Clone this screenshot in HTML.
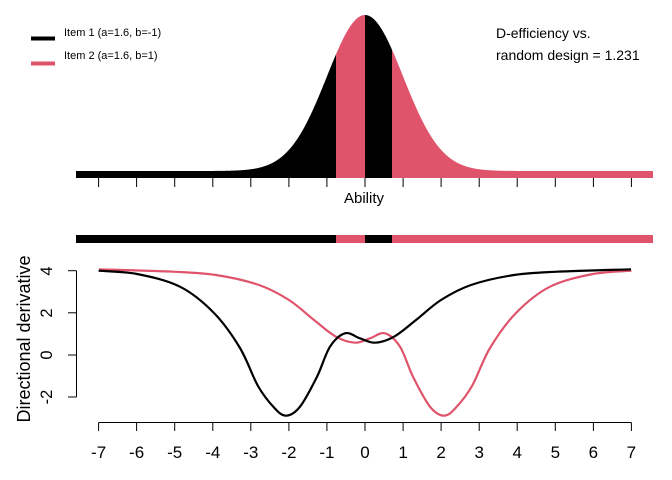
<!DOCTYPE html>
<html><head><meta charset="utf-8"><style>
html,body{margin:0;padding:0;background:#fff;}
svg{display:block;font-family:"Liberation Sans",Arial,sans-serif;}
</style></head><body>
<svg id="s" width="672" height="480" viewBox="0 0 672 480" xmlns="http://www.w3.org/2000/svg">
<g id="topg"></g>
<g id="ticks" stroke="#000" stroke-width="1"></g>
<text x="364" y="203" font-size="15" text-anchor="middle">Ability</text>
<rect x="76" y="235" width="260" height="8" fill="#000"/>
<rect x="336" y="235" width="29" height="8" fill="#DF536B"/>
<rect x="365" y="235" width="27" height="8" fill="#000"/>
<rect x="392" y="235" width="261" height="8" fill="#DF536B"/>
<line x1="31" y1="38.5" x2="55" y2="38.5" stroke="#000" stroke-width="4"/>
<line x1="31" y1="63.5" x2="55" y2="63.5" stroke="#DF536B" stroke-width="4"/>
<text x="64" y="36" font-size="11">Item 1 (a=1.6, b=-1)</text>
<text x="64" y="59" font-size="11">Item 2 (a=1.6, b=1)</text>
<text x="496" y="38" font-size="14">D-efficiency vs.</text>
<text x="496" y="60" font-size="14">random design = 1.231</text>
<g stroke="#000" stroke-width="1" fill="none">
<line x1="76.5" y1="270.7" x2="76.5" y2="397"/>
<line x1="68" y1="270.7" x2="76.5" y2="270.7"/>
<line x1="68" y1="312.8" x2="76.5" y2="312.8"/>
<line x1="68" y1="355" x2="76.5" y2="355"/>
<line x1="68" y1="397" x2="76.5" y2="397"/>
<line x1="98.6" y1="422.5" x2="631.4" y2="422.5"/>
</g>
<g font-size="16.5" text-anchor="middle">
<text transform="translate(52,271) rotate(-90)">4</text>
<text transform="translate(52,313) rotate(-90)">2</text>
<text transform="translate(52,355) rotate(-90)">0</text>
<text transform="translate(52,397) rotate(-90)">-2</text>
<text transform="translate(30,339) rotate(-90)" font-size="18">Directional derivative</text>
</g>
<g id="xl" font-size="17" text-anchor="middle"></g>
<g id="xt" stroke="#000" stroke-width="1"></g>
<path id="red" fill="none" stroke="#DF536B" stroke-width="2.2"/>
<path id="blk" fill="none" stroke="#000" stroke-width="2.2"/>
</svg>
<script>
(function(){
var NS="http://www.w3.org/2000/svg";
function X(t){return 365+38.06*t;}
var tg=document.getElementById('topg');
var segs=[[76,336,'#000'],[336,365,'#DF536B'],[365,392,'#000'],[392,653,'#DF536B']];
segs.forEach(function(s){
 var d='M'+s[0]+',178';
 for(var x=s[0];x<=s[1];x+=0.5){var t=(x-365)/38.06;var y=171-156*Math.exp(-t*t/2);d+=' L'+x+','+y.toFixed(2);}
 d+=' L'+s[1]+',178 Z';
 var p=document.createElementNS(NS,'path');p.setAttribute('d',d);p.setAttribute('fill',s[2]);tg.appendChild(p);
});
var tk=document.getElementById('ticks'),xt=document.getElementById('xt'),xl=document.getElementById('xl');
for(var i=-7;i<=7;i++){
 var x=X(i).toFixed(1);
 var l=document.createElementNS(NS,'line');l.setAttribute('x1',x);l.setAttribute('x2',x);l.setAttribute('y1',178);l.setAttribute('y2',187);tk.appendChild(l);
 var l2=document.createElementNS(NS,'line');l2.setAttribute('x1',x);l2.setAttribute('x2',x);l2.setAttribute('y1',422.5);l2.setAttribute('y2',431);xt.appendChild(l2);
 var tx=document.createElementNS(NS,'text');tx.setAttribute('x',x);tx.setAttribute('y',458);tx.textContent=i;xl.appendChild(tx);
}
var pts=[[98.6,270.7],[137,274],[180,286.7],[214,313],[240,348],[258,386],[274,407.5],[286,415.7],[300,406.7],[317,376.7],[330,346.7],[345,333.3],[360,338.3],[375,342.7],[394,336.7],[416,320],[441,300],[471,285],[514,275],[557,271.7],[631,269.3]];
function cr(p){
 var d='M'+p[0][0]+','+p[0][1];
 for(var i=0;i<p.length-1;i++){
  var p0=p[i-1]||p[i],p1=p[i],p2=p[i+1],p3=p[i+2]||p2;
  var c1=[p1[0]+(p2[0]-p0[0])/6,p1[1]+(p2[1]-p0[1])/6],c2=[p2[0]-(p3[0]-p1[0])/6,p2[1]-(p3[1]-p1[1])/6];
  d+=' C'+c1[0].toFixed(2)+','+c1[1].toFixed(2)+' '+c2[0].toFixed(2)+','+c2[1].toFixed(2)+' '+p2[0]+','+p2[1];
 }
 return d;
}
document.getElementById('blk').setAttribute('d',cr(pts));
var rp=pts.map(function(q){return [730-q[0],q[1]];}).reverse();
document.getElementById('red').setAttribute('d',cr(rp));
})();
</script>
</body></html>
